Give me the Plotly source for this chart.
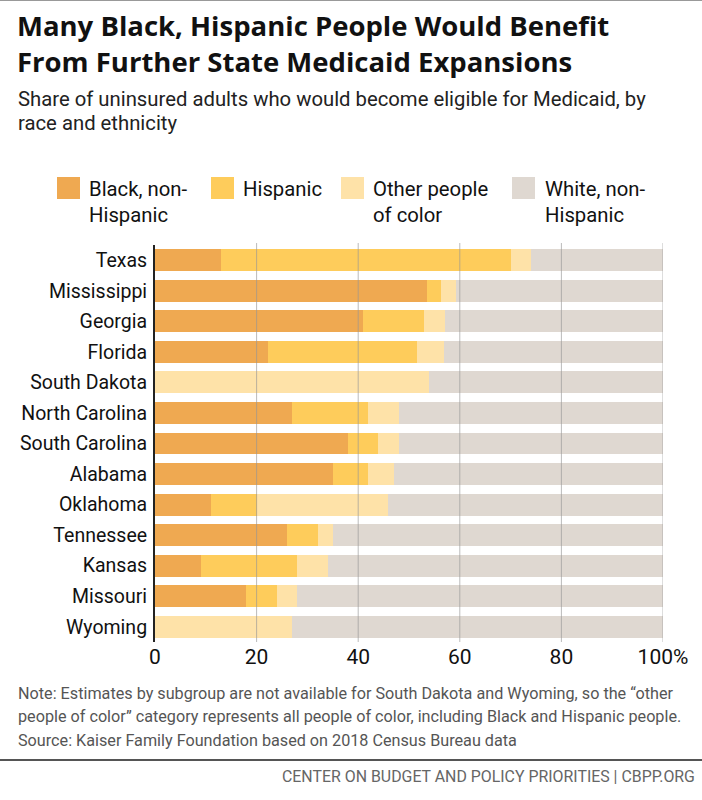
import plotly.graph_objects as go

states = ["Texas", "Mississippi", "Georgia", "Florida", "South Dakota", "North Carolina",
          "South Carolina", "Alabama", "Oklahoma", "Tennessee", "Kansas", "Missouri", "Wyoming"]
black = [13, 53.6, 41, 22.2, 0, 26.9, 37.9, 35, 11, 25.9, 9, 18, 0]
hispanic = [57, 2.7, 11.9, 29.3, 0, 15, 6, 6.9, 9, 6.1, 18.9, 6, 0]
other = [4, 2.9, 4.1, 5.4, 54, 6.1, 4.1, 5.1, 25.9, 3, 6.2, 4, 27]
white = [26, 40.8, 43, 43.1, 46, 52, 52, 53, 54.1, 65, 65.9, 72, 73]

series_names = ["Black, non-Hispanic", "Hispanic", "Other people of color", "White, non-Hispanic"]
legend_labels = ["Black, non-<br>Hispanic", "Hispanic", "Other people<br>of color", "White, non-<br>Hispanic"]
colors = ["#EFA951", "#FECC5B", "#FEE2A8", "#DFD8D1"]

tick_vals = [0, 20, 40, 60, 80, 100]
tick_text = ["0", "20", "40", "60", "80", "100%"]

W, H = 702, 800
ML, MR, MT, MB = 155, 39, 245, 158
PW = W - ML - MR
PH = H - MT - MB


def px(x):
    return (x - ML) / PW


def py(y):
    return (H - MB - y) / PH


fig = go.Figure()
for name, vals, col in zip(series_names, [black, hispanic, other, white], colors):
    fig.add_trace(go.Bar(y=states, x=vals, name=name, orientation="h",
                         marker=dict(color=col, line=dict(width=0)),
                         showlegend=False, hoverinfo="x+y+name"))

shapes = []
for tv in tick_vals[1:]:
    shapes.append(dict(type="line", xref="x", yref="paper", x0=tv, x1=tv, y0=0, y1=1.005,
                       line=dict(color="rgba(150,150,150,0.65)", width=1), layer="above"))

# legend swatches
sw_x = [57, 211, 341, 512]
txt_x = [87, 241, 371, 543]
for sx, col in zip(sw_x, colors):
    shapes.append(dict(type="rect", xref="paper", yref="paper",
                       x0=px(sx), x1=px(sx + 23), y0=py(177), y1=py(199),
                       fillcolor=col, line=dict(width=0)))

# top border and footer separator
shapes.append(dict(type="line", xref="paper", yref="paper", x0=px(0), x1=px(W), y0=py(0.5), y1=py(0.5),
                   line=dict(color="#999999", width=1)))
shapes.append(dict(type="line", xref="paper", yref="paper", x0=px(0), x1=px(W), y0=py(760), y1=py(760),
                   line=dict(color="#555555", width=2)))

annotations = []


def text(x, y, s, size, color, family="Roboto", anchor="left"):
    annotations.append(dict(xref="paper", yref="paper", x=px(x), y=py(y), text=s, showarrow=False,
                            xanchor=anchor, yanchor="middle", align=anchor,
                            font=dict(size=size, color=color, family=family)))


text(15, 43, "<b>Many Black, Hispanic People Would Benefit<br>From Further State Medicaid Expansions</b>",
     27.5, "#111111", family="Open Sans")
text(16, 99, "Share of uninsured adults who would become eligible for Medicaid, by", 20.3, "#222222")
text(16, 123, "race and ethnicity", 20.3, "#222222")

for tx, lab in zip(txt_x, legend_labels):
    annotations.append(dict(xref="paper", yref="paper", x=px(tx), y=py(175), text=lab, showarrow=False,
                            xanchor="left", yanchor="top", align="left",
                            font=dict(size=20.3, color="#111111", family="Roboto")))

text(16, 693, "Note: Estimates by subgroup are not available for South Dakota and Wyoming, so the \u201cother", 16.2, "#555555")
text(16, 716, "people of color\u201d category represents all people of color, including Black and Hispanic people.", 16.2, "#555555")
text(16, 740, "Source: Kaiser Family Foundation based on 2018 Census Bureau data", 16.2, "#555555")
text(697, 776, "CENTER ON BUDGET AND POLICY PRIORITIES | CBPP.ORG", 15.9, "#666666", anchor="right")

fig.update_layout(
    width=W, height=H,
    margin=dict(l=ML, r=MR, t=MT, b=MB, pad=0),
    barmode="stack", bargap=0.28,
    paper_bgcolor="white", plot_bgcolor="white",
    shapes=shapes, annotations=annotations,
    font=dict(family="Roboto", color="#111111"),
    xaxis=dict(range=[0, 100], tickvals=tick_vals, ticktext=tick_text, showgrid=False,
               zeroline=False, showline=False, ticks="",
               tickfont=dict(size=21, family="Roboto", color="#111111"), fixedrange=True),
    yaxis=dict(autorange="reversed", showgrid=False, zeroline=False, showline=True,
               linecolor="#222222", linewidth=2, ticks="", ticklabelstandoff=2,
               tickfont=dict(size=19.5, family="Roboto", color="#111111"), fixedrange=True),
)

fig.write_html("out.html")
